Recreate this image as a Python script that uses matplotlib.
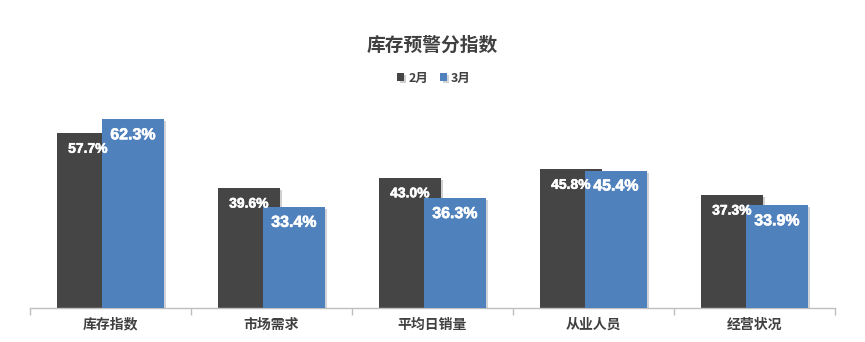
import matplotlib
matplotlib.use("Agg")
import matplotlib.pyplot as plt
import matplotlib.patheffects as pe
import numpy as np

plt.rcParams['font.family'] = ['Noto Sans CJK SC', 'DejaVu Sans']

categories = ['库存指数', '市场需求', '平均日销量', '从业人员', '经营状况']
feb = [57.7, 39.6, 43.0, 45.8, 37.3]
mar = [62.3, 33.4, 36.3, 45.4, 33.9]
series_names = ['2月', '3月']

dark = '#454545'
blue = '#4f81bd'
text_gray = '#404040'

fig = plt.figure(figsize=(8.65, 3.42), dpi=100)
ax = fig.add_axes([30 / 865, 1 - 308 / 342, 805 / 865, 212 / 342])

x = np.arange(len(categories))
width = 0.38
shadow = [pe.SimplePatchShadow(offset=(1.5, -1.5), alpha=0.2), pe.Normal()]

bars1 = ax.bar(x - 0.14, feb, width, color=dark, label=series_names[0], zorder=2,
               path_effects=shadow)
bars2 = ax.bar(x + 0.14, mar, width, color=blue, label=series_names[1], zorder=3,
               path_effects=shadow)

ax.set_xlim(-0.5, len(categories) - 0.5)
ax.set_ylim(0, 70)

# value labels inside the bar tops; the 2月 ones are smaller
label_sizes = [10, 11.5]
heavy = [pe.withStroke(linewidth=0.4, foreground='white')]
for (bars, vals), fs in zip([(bars1, feb), (bars2, mar)], label_sizes):
    for b, v in zip(bars, vals):
        ax.annotate(f'{v:.1f}%', (b.get_x() + b.get_width() / 2, v),
                    xytext=(0, -15.5), textcoords='offset pixels',
                    ha='center', va='center', color='white', fontsize=fs,
                    fontweight='bold', family='Liberation Sans', zorder=5,
                    path_effects=heavy)

ax.set_yticks([])
for side in ['top', 'right', 'left']:
    ax.spines[side].set_visible(False)
ax.spines['bottom'].set_color('#bfbfbf')
ax.spines['bottom'].set_linewidth(1)

ax.set_xticks(np.arange(-0.5, len(categories)), minor=False)
ax.set_xticklabels([])
ax.tick_params(axis='x', which='major', length=5, color='#bfbfbf', width=1)
ax.set_xticks(x, minor=True)
ax.set_xticklabels(categories, minor=True, fontsize=10, fontweight='bold', color=text_gray)
ax.tick_params(axis='x', which='minor', length=0, pad=7)

fig.text(0.5, 1 - 45 / 342, '库存预警分指数', ha='center', va='center',
         fontsize=13.5, fontweight='bold', color=text_gray)

leg = fig.legend(handles=[bars1, bars2], labels=series_names, loc='center',
                 bbox_to_anchor=(0.502, 1 - 78 / 342), ncol=2, frameon=False,
                 handlelength=0.55, handleheight=0.55, handletextpad=0.3,
                 columnspacing=1.0, prop={'weight': 'bold', 'size': 9})
for t in leg.get_texts():
    t.set_color(text_gray)

fig.savefig('out.png', dpi=100)
